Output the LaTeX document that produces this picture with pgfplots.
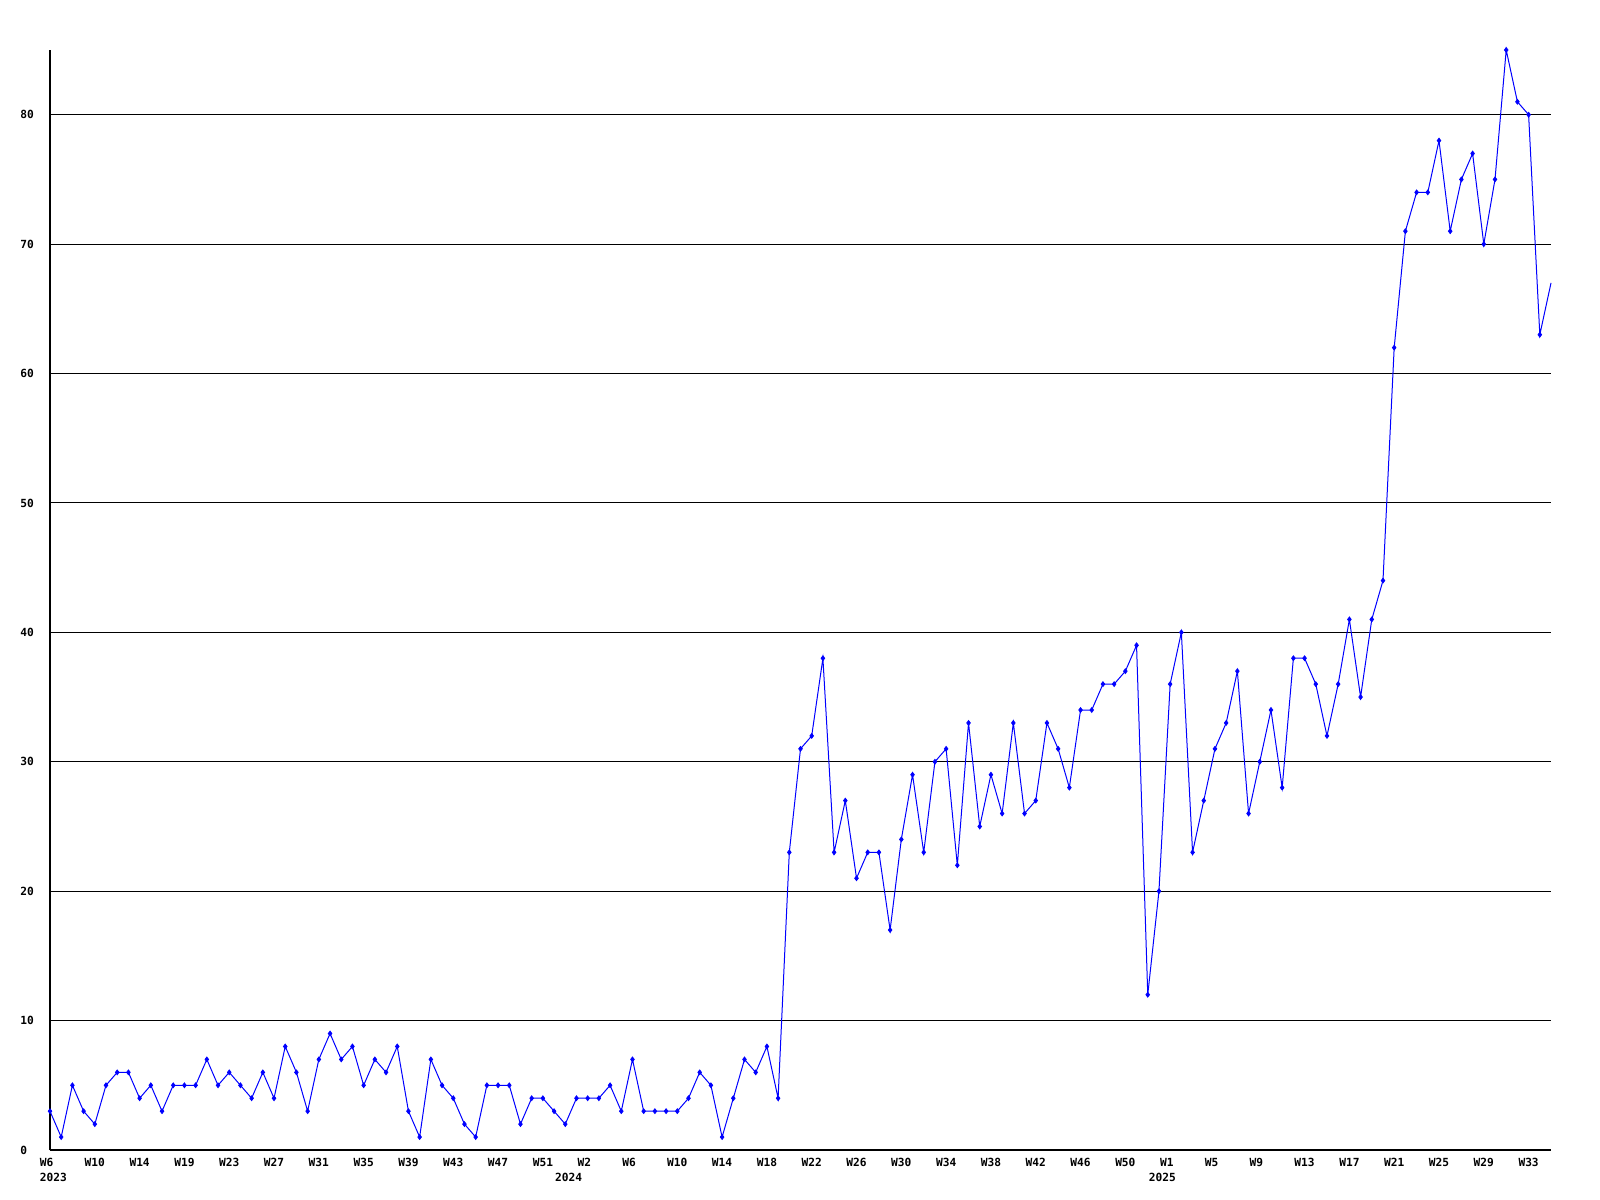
\documentclass[border=0pt]{standalone}
\usepackage{pgfplots}
\pgfplotsset{compat=1.18}
\usepackage{pgfplotstable}
\usepackage{fontspec}
\setmainfont{DejaVu Sans Mono}
\pgfplotstableread{
x y
0 3
1 1
2 5
3 3
4 2
5 5
6 6
7 6
8 4
9 5
10 3
11 5
12 5
13 5
14 7
15 5
16 6
17 5
18 4
19 6
20 4
21 8
22 6
23 3
24 7
25 9
26 7
27 8
28 5
29 7
30 6
31 8
32 3
33 1
34 7
35 5
36 4
37 2
38 1
39 5
40 5
41 5
42 2
43 4
44 4
45 3
46 2
47 4
48 4
49 4
50 5
51 3
52 7
53 3
54 3
55 3
56 3
57 4
58 6
59 5
60 1
61 4
62 7
63 6
64 8
65 4
66 23
67 31
68 32
69 38
70 23
71 27
72 21
73 23
74 23
75 17
76 24
77 29
78 23
79 30
80 31
81 22
82 33
83 25
84 29
85 26
86 33
87 26
88 27
89 33
90 31
91 28
92 34
93 34
94 36
95 36
96 37
97 39
98 12
99 20
100 36
101 40
102 23
103 27
104 31
105 33
106 37
107 26
108 30
109 34
110 28
111 38
112 38
113 36
114 32
115 36
116 41
117 35
118 41
119 44
120 62
121 71
122 74
123 74
124 78
125 71
126 75
127 77
128 70
129 75
130 85
131 81
132 80
133 63
134 67
}\datatable
\begin{document}
\begin{tikzpicture}
\path[use as bounding box] (0,0) rectangle (800bp,600bp);
\begin{axis}[
  at={(25bp,25bp)}, anchor=south west,
  width=750.5bp, height=550bp, scale only axis,
  xmin=0, xmax=134, ymin=0, ymax=85,
  axis lines=left,
  axis line style={-, black, line width=0.6bp},
  ytick={0,10,...,80},
  xtick={0,4,...,132},
  xticklabels={W6,W10,W14,W19,W23,W27,W31,W35,W39,W43,W47,W51,W2,W6,W10,W14,W18,W22,W26,W30,W34,W38,W42,W46,W50,W1,W5,W9,W13,W17,W21,W25,W29,W33},
  major tick length=0pt,
  ymajorgrids,
  grid style={black, line width=0.5bp},
  tick label style={font=\fontsize{5.6bp}{6.7bp}\selectfont\bfseries},
  yticklabel style={anchor=west, xshift=-15bp, inner sep=0pt},
  xticklabel style={anchor=west, xshift=-5.25bp, yshift=-6.25bp, inner sep=0pt},
  /pgf/number format/assume math mode=true,
  clip=false,
]
\addplot[blue, line width=0.5bp, no markers] table[x=x, y=y] {\datatable};
\addplot[blue, only marks, mark=diamond*, mark size=1.2bp, skip coords between index={134}{135}] table[x=x, y=y] {\datatable};
\node[anchor=west, inner sep=0pt, font=\fontsize{5.6bp}{6.7bp}\selectfont\bfseries, xshift=-5.25bp, yshift=-13.75bp] at (axis cs:0,0) {2023};
\node[anchor=west, inner sep=0pt, font=\fontsize{5.6bp}{6.7bp}\selectfont\bfseries, xshift=-5.25bp, yshift=-13.75bp] at (axis cs:46,0) {2024};
\node[anchor=west, inner sep=0pt, font=\fontsize{5.6bp}{6.7bp}\selectfont\bfseries, xshift=-5.25bp, yshift=-13.75bp] at (axis cs:99,0) {2025};
\end{axis}
\end{tikzpicture}
\end{document}
